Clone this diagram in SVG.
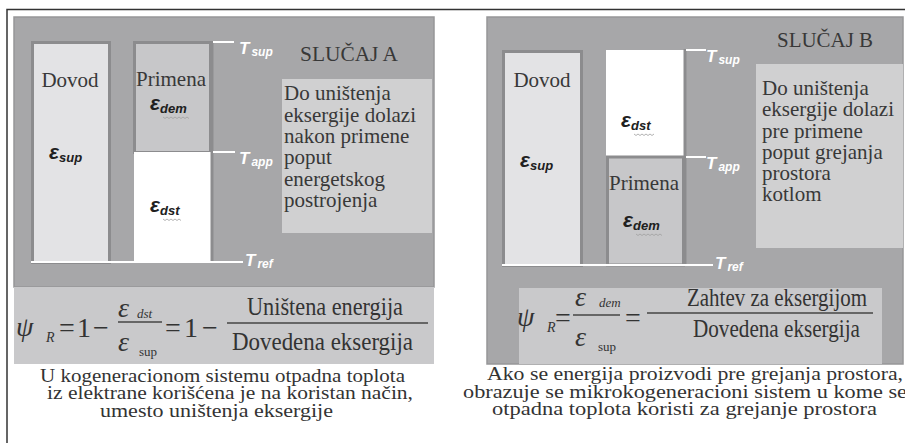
<svg xmlns="http://www.w3.org/2000/svg" width="905" height="443" viewBox="0 0 905 443">
<style>
.panel{fill:#a7a7a9;stroke:#969698;stroke-width:1.5}
.bar{fill:#e3e3e5;stroke:#8c8c8e;stroke-width:3}
.app{fill:#c7c7c9;stroke:#8c8c8e;stroke-width:3}
.box{fill:#d0d0d1}
.band{fill:#c9c9cb}
.axis{stroke:#8c8c8e;stroke-width:3}
.tick{stroke:#ffffff;stroke-width:2}
.serif{font-family:"Liberation Serif","Times New Roman",serif;fill:#383838}
.lbl{font-size:21px}
.T{font-family:"Liberation Sans",Arial,sans-serif;font-weight:bold;font-style:italic;fill:#ffffff;font-size:17px}
.Ts{font-size:12px}
.eps{font-family:"Liberation Sans",Arial,sans-serif;font-weight:bold;font-style:italic;fill:#202020;font-size:21px}
.es{font-size:13px}
.squig{fill:none;stroke:#a0a0a0;stroke-width:0.8}
.frm{font-family:"Liberation Serif","Times New Roman",serif;fill:#333333;font-size:25px}
.big{font-size:28px}
.fsub{font-size:14px}
.fsm{font-size:13px}
.it{font-style:italic}
.fl{stroke:#444444;stroke-width:1.3}
.cap{font-family:"Liberation Serif","Times New Roman",serif;fill:#333333;font-size:19.5px}
.frame{stroke:#333333;stroke-width:1.5;fill:none}
</style>

<g id="frame">
<path class="frame" d="M7 443 V9.5 H905"/>
</g>

<!-- ========== CASE A ========== -->
<g id="panelA">
<rect class="panel" x="14" y="17" width="420" height="270"/>
<rect class="band" x="14" y="287" width="420" height="77"/>
<text class="serif" x="300" y="61" font-size="21" textLength="98" lengthAdjust="spacingAndGlyphs">SLUČAJ A</text>
</g>

<g id="A-dovod">
<rect class="bar" x="32.5" y="42.5" width="77" height="220"/>
<text class="serif lbl" x="70" y="87" text-anchor="middle">Dovod</text>
<text class="eps" x="49" y="159">ε<tspan class="es" dy="3">sup</tspan></text>
</g>

<g id="A-primena">
<rect class="app" x="134.5" y="42.5" width="76" height="110"/>
<rect x="134" y="152" width="77" height="110" fill="#ffffff"/>
<text class="serif lbl" x="171" y="86" text-anchor="middle">Primena</text>
<text class="eps" x="150" y="110">ε<tspan class="es" dy="3">dem</tspan></text>
<path class="squig" d="M163 117 l2 1.5 l2 -1.5 l2 1.5 l2 -1.5 l2 1.5 l2 -1.5 l2 1.5 l2 -1.5 l2 1.5 l2 -1.5 l2 1.5 l2 -1.5 l2 1.5"/>
<text class="eps" x="150" y="212">ε<tspan class="es" dy="3">dst</tspan></text>
<path class="squig" d="M163 219 l2 1.5 l2 -1.5 l2 1.5 l2 -1.5 l2 1.5 l2 -1.5 l2 1.5 l2 -1.5 l2 1.5"/>
</g>

<g id="A-note">
<rect class="box" x="282" y="79" width="150" height="154"/>
<text class="serif lbl" x="284" y="100">Do uništenja</text>
<text class="serif lbl" x="284" y="121.5">eksergije dolazi</text>
<text class="serif lbl" x="284" y="143">nakon primene</text>
<text class="serif lbl" x="284" y="164">poput</text>
<text class="serif lbl" x="284" y="185.5">energetskog</text>
<text class="serif lbl" x="284" y="207">postrojenja</text>
</g>

<g id="A-axis">
<line class="axis" x1="212" y1="41" x2="212" y2="262"/>
<line class="tick" x1="31" y1="262" x2="243" y2="262"/>
<line class="tick" x1="213" y1="42" x2="234" y2="42"/>
<line class="tick" x1="213" y1="152" x2="235" y2="152"/>
<text class="T" x="239" y="54">T<tspan class="Ts" dx="2" dy="2">sup</tspan></text>
<text class="T" x="239" y="164">T<tspan class="Ts" dx="2" dy="2">app</tspan></text>
<text class="T" x="245" y="266">T<tspan class="Ts" dx="2" dy="2">ref</tspan></text>
</g>

<g id="A-formula">
<text class="frm it big" x="16" y="336">ψ</text>
<text class="frm it fsub" x="46" y="342">R</text>
<text class="frm big" x="59" y="337">=</text>
<text class="frm big" x="77" y="337">1</text>
<text class="frm big" x="93" y="337">−</text>
<line class="fl" x1="118" y1="322" x2="162" y2="322"/>
<text class="frm it big" x="118" y="317">ε</text>
<text class="frm it fsm" x="137" y="318">dst</text>
<text class="frm it big" x="118" y="351">ε</text>
<text class="frm fsm" x="139" y="356">sup</text>
<text class="frm big" x="165" y="337">=</text>
<text class="frm big" x="184" y="337">1</text>
<text class="frm big" x="202" y="337">−</text>
<line class="fl" x1="227" y1="323" x2="428" y2="323"/>
<text class="frm" x="247" y="315" textLength="156" lengthAdjust="spacingAndGlyphs">Uništena energija</text>
<text class="frm" x="232" y="350" textLength="181" lengthAdjust="spacingAndGlyphs">Dovedena eksergija</text>
</g>

<g id="A-caption">
<text class="cap" x="40" y="382" textLength="365" lengthAdjust="spacingAndGlyphs">U kogeneracionom sistemu otpadna toplota</text>
<text class="cap" x="47" y="399" textLength="366" lengthAdjust="spacingAndGlyphs">iz elektrane korišćena je na koristan način,</text>
<text class="cap" x="100" y="417" textLength="233" lengthAdjust="spacingAndGlyphs">umesto uništenja eksergije</text>
</g>

<!-- ========== CASE B ========== -->
<g id="panelB">
<rect class="panel" x="487" y="17" width="416" height="347"/>
<rect class="band" x="519" y="288" width="363" height="76"/>
<text class="serif" x="777" y="47" font-size="21" textLength="96" lengthAdjust="spacingAndGlyphs">SLUČAJ B</text>
</g>

<g id="B-dovod">
<rect class="bar" x="503.5" y="51.5" width="78" height="214"/>
<text class="serif lbl" x="542" y="87" text-anchor="middle">Dovod</text>
<text class="eps" x="520" y="167">ε<tspan class="es" dy="3">sup</tspan></text>
</g>

<g id="B-primena">
<rect x="606" y="50" width="78" height="107" fill="#ffffff"/>
<rect class="app" x="607.5" y="157" width="76" height="108" stroke="none"/>
<line class="axis" x1="607.5" y1="157" x2="607.5" y2="265"/>
<text class="eps" x="621" y="127">ε<tspan class="es" dy="3">dst</tspan></text>
<path class="squig" d="M634 134 l2 1.5 l2 -1.5 l2 1.5 l2 -1.5 l2 1.5 l2 -1.5 l2 1.5 l2 -1.5 l2 1.5 l2 -1.5"/>
<text class="serif lbl" x="644" y="190" text-anchor="middle">Primena</text>
<text class="eps" x="623" y="227">ε<tspan class="es" dy="3">dem</tspan></text>
<path class="squig" d="M636 234 l2 1.5 l2 -1.5 l2 1.5 l2 -1.5 l2 1.5 l2 -1.5 l2 1.5 l2 -1.5 l2 1.5 l2 -1.5 l2 1.5 l2 -1.5 l2 1.5"/>
</g>

<g id="B-note">
<rect class="box" x="756" y="64" width="147" height="184"/>
<text class="serif lbl" x="762" y="95">Do uništenja</text>
<text class="serif lbl" x="762" y="116">eksergije dolazi</text>
<text class="serif lbl" x="762" y="137.5">pre primene</text>
<text class="serif lbl" x="762" y="158.5">poput grejanja</text>
<text class="serif lbl" x="762" y="180">prostora</text>
<text class="serif lbl" x="762" y="201">kotlom</text>
</g>

<g id="B-axis">
<line class="axis" x1="685" y1="49" x2="685" y2="265"/>
<line class="tick" x1="502" y1="265" x2="713" y2="265"/>
<line class="tick" x1="686" y1="50" x2="706" y2="50"/>
<line class="tick" x1="686" y1="157" x2="706" y2="157"/>
<text class="T" x="706" y="62">T<tspan class="Ts" dx="2" dy="2">sup</tspan></text>
<text class="T" x="706" y="169">T<tspan class="Ts" dx="2" dy="2">app</tspan></text>
<text class="T" x="715" y="269">T<tspan class="Ts" dx="2" dy="2">ref</tspan></text>
</g>

<g id="B-formula">
<text class="frm it big" x="517" y="326">ψ</text>
<text class="frm it fsub" x="547" y="332">R</text>
<text class="frm big" x="555" y="327">=</text>
<line class="fl" x1="573" y1="315" x2="620" y2="315"/>
<text class="frm it big" x="575" y="306">ε</text>
<text class="frm it fsm" x="599" y="307">dem</text>
<text class="frm it big" x="575" y="346">ε</text>
<text class="frm fsm" x="598" y="351">sup</text>
<text class="frm big" x="625" y="327">=</text>
<line class="fl" x1="647" y1="313" x2="873" y2="313"/>
<text class="frm" x="687" y="306" textLength="180" lengthAdjust="spacingAndGlyphs">Zahtev za eksergijom</text>
<text class="frm" x="693" y="337" textLength="167" lengthAdjust="spacingAndGlyphs">Dovedena eksergija</text>
</g>

<g id="B-caption">
<text class="cap" x="487" y="380" textLength="416" lengthAdjust="spacingAndGlyphs">Ako se energija proizvodi pre grejanja prostora,</text>
<text class="cap" x="463" y="398" textLength="444" lengthAdjust="spacingAndGlyphs">obrazuje se mikrokogeneracioni sistem u kome se</text>
<text class="cap" x="492" y="415" textLength="385" lengthAdjust="spacingAndGlyphs">otpadna toplota koristi za grejanje prostora</text>
</g>
</svg>
